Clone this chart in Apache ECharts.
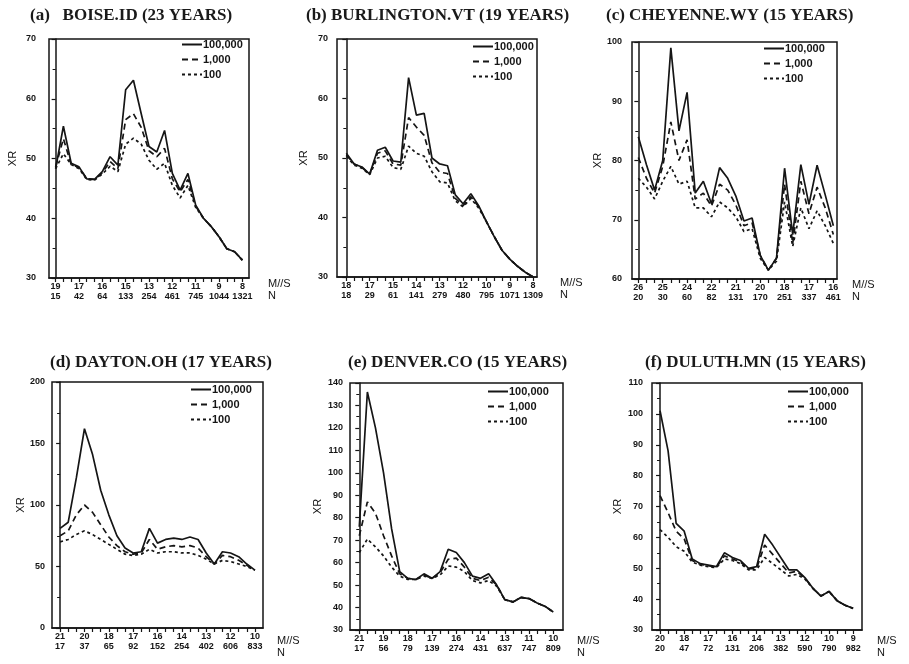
<!DOCTYPE html>
<html>
<head>
<meta charset="utf-8">
<script src="https://cdn.jsdelivr.net/npm/echarts@6/dist/echarts.min.js"></script>
<style>
  html, body { margin: 0; padding: 0; background: #fff; }
  #chart { width: 909px; height: 664px; }
</style>
</head>
<body>
<div id="chart"></div>
<script>
// Return-period curves (100,000 / 1,000 / 100) of XR versus wind-speed threshold for six stations.
const returnPeriods = ['100,000', '1,000', '100'];

// (a) Boise
const boiseSpeed = ['19', '17', '16', '15', '13', '12', '11', '9', '8'];
const boiseN = ['15', '42', '64', '133', '254', '461', '745', '1044', '1321'];
const boise100000 = [48.3, 55.4, 49.2, 48.6, 46.6, 46.5, 47.8, 50.3, 48.9, 61.5, 63.1, 57.5, 52, 51.1, 54.7, 47.5, 44.7, 47.5, 42.2, 40, 38.6, 36.9, 34.9, 34.4, 33];
const boise1000 = [48.6, 53.3, 49, 48.5, 46.6, 46.5, 47.6, 49.5, 48.3, 56.5, 57.5, 55.2, 51.3, 50.3, 51.7, 46.6, 44.4, 46.5, 42, 40, 38.6, 36.9, 34.9, 34.4, 33];
const boise100 = [48.3, 50.8, 49, 48.3, 46.5, 46.4, 47.4, 48.7, 47.8, 52.4, 53.4, 52.4, 49.7, 48.2, 49.2, 45.5, 43.4, 45.5, 41.8, 40, 38.6, 36.9, 34.9, 34.4, 33];

// (b) Burlington
const burlSpeed = ['18', '17', '15', '14', '13', '12', '10', '9', '8'];
const burlN = ['18', '29', '61', '141', '279', '480', '795', '1071', '1309'];
const burl100000 = [50.8, 49, 48.5, 47.3, 51.3, 51.8, 49.5, 49.3, 63.5, 57.2, 57.5, 50, 49, 48.7, 43.8, 42.3, 44, 42, 39.3, 36.8, 34.5, 33, 31.8, 30.8, 30];
const burl1000 = [50.5, 49, 48.4, 47.3, 50.8, 51.2, 49, 48.8, 56.8, 55.2, 53.8, 49.2, 47.6, 47.4, 43.2, 42, 43.5, 41.8, 39.3, 36.8, 34.5, 33, 31.8, 30.8, 30];
const burl100 = [50.3, 48.8, 48.3, 47.2, 50, 50.3, 48.4, 48.1, 52, 50.8, 50.3, 47.7, 46, 45.8, 42.8, 41.8, 43.2, 41.6, 39.3, 36.8, 34.5, 33, 31.8, 30.8, 30];

// (c) Cheyenne
const cheySpeed = ['26', '25', '24', '22', '21', '20', '18', '17', '16'];
const cheyN = ['20', '30', '60', '82', '131', '170', '251', '337', '461'];
const chey100000 = [84, 79.3, 75, 80, 99, 85, 91.5, 74.5, 76.5, 72.7, 78.8, 77, 74, 69.8, 70.3, 64, 61.5, 63.5, 78.7, 67.5, 79.3, 72.6, 79.2, 74.2, 69];
const chey1000 = [80.5, 77, 74.5, 79, 86.5, 80, 83.5, 73.5, 74.5, 72.3, 76, 75, 72.5, 69, 69.5, 64, 61.5, 63.5, 76, 66, 76.5, 71, 75.5, 72, 67.5];
const chey100 = [77, 75.5, 73.5, 76.5, 79, 76, 76.5, 72, 72, 70.5, 73, 72, 70.5, 68, 68.5, 63.5, 61.5, 63, 73, 65.5, 72, 68.5, 71.5, 69, 66];

// (d) Dayton
const daySpeed = ['21', '20', '18', '17', '16', '14', '13', '12', '10'];
const dayN = ['17', '37', '65', '92', '152', '254', '402', '606', '833'];
const day100000 = [81, 86, 122, 162, 141, 112, 92, 75, 65, 61, 62, 81, 69, 72, 73, 72, 74, 72, 61, 52, 62, 61, 58, 52, 47];
const day1000 = [75, 79, 92, 100, 94, 84, 74, 67, 62, 60, 61, 72, 64, 66, 67, 66, 67, 65, 58, 52, 59, 58, 55, 51, 47];
const day100 = [70, 72, 76, 79, 76, 72, 68, 64, 60, 59, 60, 64, 61, 62, 62, 61, 61, 59, 56, 52, 55, 54, 52, 50, 47];

// (e) Denver
const denSpeed = ['21', '19', '18', '17', '16', '14', '13', '11', '10'];
const denN = ['17', '56', '79', '139', '274', '431', '637', '747', '809'];
const den100000 = [76, 136, 120, 100, 75, 56, 53, 52.5, 55, 53, 56, 66, 64.5, 60, 54, 53, 55, 50, 43.5, 42.5, 44.5, 44, 42, 40.5, 38];
const den1000 = [72, 87, 82, 72, 63, 55, 53, 52.5, 54.5, 53, 55.5, 61.5, 62, 58, 53, 52, 53.5, 50, 43.5, 42.5, 44.5, 44, 42, 40.5, 38];
const den100 = [64.5, 70.5, 67, 63, 58, 54, 52.5, 52.5, 54, 53, 54.5, 58.5, 58, 56, 52, 51, 52, 49.5, 43.5, 42.5, 44.5, 44, 42, 40.5, 38];

// (f) Duluth
const dulSpeed = ['20', '18', '17', '16', '14', '13', '12', '10', '9'];
const dulN = ['20', '47', '72', '131', '206', '382', '590', '790', '982'];
const dul100000 = [101, 88, 64.5, 62, 53, 51.5, 51, 50.5, 55, 53.5, 52.5, 50, 50.5, 61, 57.5, 53.5, 49.5, 49.5, 47, 43.5, 41, 42.5, 39.5, 38, 37];
const dul1000 = [73.5, 68, 62, 59.5, 52.5, 51.3, 50.8, 50.3, 54, 53, 52, 49.8, 50, 57.5, 54.5, 51.5, 48.5, 49, 46.8, 43.5, 41, 42.5, 39.5, 38, 37];
const dul100 = [62.5, 60, 57, 55.5, 52, 51, 50.5, 50.2, 53, 52.5, 51.5, 49.5, 49.5, 53.5, 51.5, 49.5, 47.5, 48, 46.5, 43.5, 41, 42.5, 39.5, 38, 37];

const panels = [
  { title: '(a)   BOISE.ID (23 YEARS)', speed: boiseSpeed, n: boiseN, lines: [boise100000, boise1000, boise100],
    yMin: 30, yMax: 70, yStep: 10, unit: 'M//S' },
  { title: '(b) BURLINGTON.VT (19 YEARS)', speed: burlSpeed, n: burlN, lines: [burl100000, burl1000, burl100],
    yMin: 30, yMax: 70, yStep: 10, unit: 'M//S' },
  { title: '(c) CHEYENNE.WY (15 YEARS)', speed: cheySpeed, n: cheyN, lines: [chey100000, chey1000, chey100],
    yMin: 60, yMax: 100, yStep: 10, unit: 'M//S' },
  { title: '(d) DAYTON.OH (17 YEARS)', speed: daySpeed, n: dayN, lines: [day100000, day1000, day100],
    yMin: 0, yMax: 200, yStep: 50, unit: 'M//S' },
  { title: '(e) DENVER.CO (15 YEARS)', speed: denSpeed, n: denN, lines: [den100000, den1000, den100],
    yMin: 30, yMax: 140, yStep: 10, unit: 'M//S' },
  { title: '(f) DULUTH.MN (15 YEARS)', speed: dulSpeed, n: dulN, lines: [dul100000, dul1000, dul100],
    yMin: 30, yMax: 110, yStep: 10, unit: 'M/S' }
];

// Layout of each panel: plot box, horizontal padding (in steps), title and legend placement.
const layout = [
  { grid: [49, 39, 200, 239], xPad: [-0.85, 24.85], titleX: 30, titleY: 7, legend: [181, 39], xrGap: 31, yMargin: 13, nameGap: 19, namePad: 0 },
  { grid: [337, 39, 200, 238], xPad: [-1.2, 24.5], titleX: 306, titleY: 7, legend: [472, 41], xrGap: 28, yMargin: 9, nameGap: 23, namePad: 0 },
  { grid: [632, 42, 205, 237], xPad: [-0.78, 24.45], titleX: 606, titleY: 7, legend: [763, 43], xrGap: 22, yMargin: 10, nameGap: 15, namePad: 0 },
  { grid: [52, 382, 211, 246], xPad: [-1, 25], titleX: 50, titleY: 354, legend: [190, 384], xrGap: 26, yMargin: 7, nameGap: 14, namePad: 7 },
  { grid: [350, 383, 213, 247], xPad: [-1.15, 25.2], titleX: 348, titleY: 354, legend: [487, 386], xrGap: 27, yMargin: 7, nameGap: 14, namePad: 5 },
  { grid: [652, 383, 210, 247], xPad: [-1, 25.1], titleX: 645, titleY: 354, legend: [787, 386], xrGap: 29, yMargin: 9, nameGap: 15, namePad: 5 }
];

const lineTypes = ['solid', [6, 4], [3, 3]];
const ink = '#151515';
const axisFont = { fontFamily: 'Liberation Sans, Arial, sans-serif', fontWeight: 'bold', fontSize: 9, color: ink };

const option = {
  backgroundColor: '#ffffff',
  animation: false,
  title: [], grid: [], xAxis: [], yAxis: [], legend: [], series: []
};

panels.forEach((p, i) => {
  const L = layout[i];
  option.title.push({
    text: p.title, left: L.titleX, top: L.titleY, padding: 0,
    textStyle: { fontFamily: 'Liberation Serif, Times New Roman, serif', fontWeight: 'bold', fontSize: 17, color: '#1a1a1a' }
  });
  option.grid.push({
    left: L.grid[0], top: L.grid[1], width: L.grid[2], height: L.grid[3],
    show: true, borderColor: ink, borderWidth: 1.5, backgroundColor: 'transparent'
  });
  const tickVals = p.lines[0].map((_, k) => k);
  const labelVals = p.speed.map((_, k) => k * 3);
  option.xAxis.push({
    type: 'value', gridIndex: i, min: L.xPad[0], max: L.xPad[1],
    axisLine: { show: true, onZero: false, lineStyle: { color: ink, width: 1.5 } },
    axisTick: { show: true, length: 4, customValues: tickVals, lineStyle: { color: ink, width: 1.2 } },
    axisLabel: {
      customValues: labelVals, margin: 4, ...axisFont, lineHeight: 10,
      formatter: v => { const k = Math.round(v / 3); return p.speed[k] + '\n' + p.n[k]; }
    },
    splitLine: { show: false },
    name: p.unit + '\nN', nameLocation: 'end', nameGap: L.nameGap,
    nameTextStyle: { fontFamily: 'Liberation Sans, Arial, sans-serif', fontSize: 11, color: ink,
      verticalAlign: 'top', align: 'left', lineHeight: 12, padding: [L.namePad, 0, 0, 0] }
  });
  option.yAxis.push({
    type: 'value', gridIndex: i, min: p.yMin, max: p.yMax, interval: p.yStep,
    axisLine: { show: true, lineStyle: { color: ink, width: 1.5 } },
    axisTick: { show: true, length: 4, lineStyle: { color: ink, width: 1.2 } },
    minorTick: { show: true, splitNumber: 2, length: 3, lineStyle: { color: ink, width: 1 } },
    axisLabel: { margin: L.yMargin, ...axisFont },
    splitLine: { show: false },
    name: 'XR', nameLocation: 'middle', nameGap: L.xrGap, nameRotate: 90,
    nameTextStyle: { fontFamily: 'Liberation Sans, Arial, sans-serif', fontSize: 11, color: ink }
  });
  option.legend.push({
    orient: 'vertical', left: L.legend[0], top: L.legend[1],
    itemWidth: 20, itemHeight: 10, itemGap: 4, padding: 0,
    data: returnPeriods,
    selectedMode: false,
    // line sample only, no marker in the key
    itemStyle: { opacity: 0 },
    textStyle: { fontFamily: 'Liberation Sans, Arial, sans-serif', fontWeight: 'bold', fontSize: 11, color: ink, padding: [0, 0, 0, -4] }
  });
  p.lines.forEach((vals, j) => {
    option.series.push({
      name: returnPeriods[j], type: 'line', xAxisIndex: i, yAxisIndex: i,
      data: vals.map((v, k) => [k, v]),
      symbol: 'none', clip: true,
      lineStyle: { color: ink, width: 1.7, type: lineTypes[j] },
      itemStyle: { color: ink }
    });
  });
});

const chart = echarts.init(document.getElementById('chart'), null, { renderer: 'canvas' });
chart.setOption(option);
</script>
</body>
</html>
